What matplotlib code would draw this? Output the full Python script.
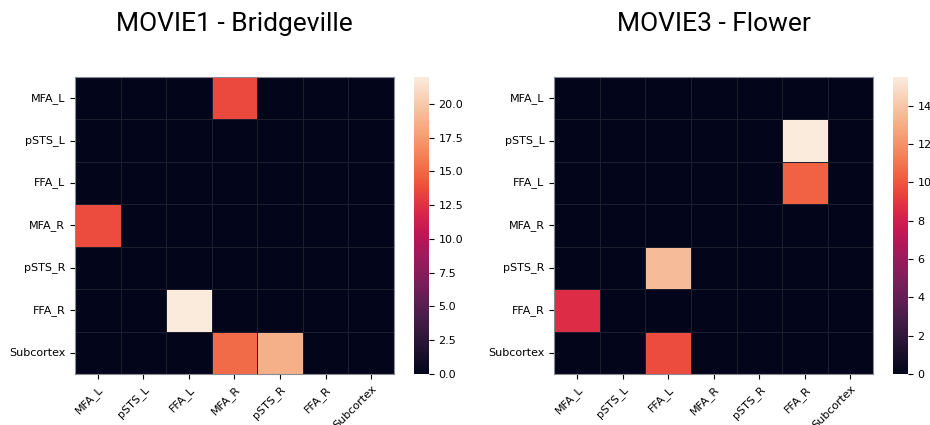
import matplotlib
matplotlib.use("Agg")
import matplotlib.pyplot as plt
import numpy as np
import seaborn as sns

regions = ["MFA_L", "pSTS_L", "FFA_L", "MFA_R", "pSTS_R", "FFA_R", "Subcortex"]

# MOVIE1 - Bridgeville (rows = source, cols = target)
movie1 = np.array([
    [0, 0, 0, 13.6, 0, 0, 0],
    [0, 0, 0, 0, 0, 0, 0],
    [0, 0, 0, 0, 0, 0, 0],
    [13.8, 0, 0, 0, 0, 0, 0],
    [0, 0, 0, 0, 0, 0, 0],
    [0, 0, 22.0, 0, 0, 0, 0],
    [0, 0, 0, 15.2, 18.6, 0, 0],
])

# MOVIE3 - Flower
movie3 = np.array([
    [0, 0, 0, 0, 0, 0, 0],
    [0, 0, 0, 0, 0, 15.5, 0],
    [0, 0, 0, 0, 0, 10.4, 0],
    [0, 0, 0, 0, 0, 0, 0],
    [0, 0, 13.6, 0, 0, 0, 0],
    [8.6, 0, 0, 0, 0, 0, 0],
    [0, 0, 9.7, 0, 0, 0, 0],
])

titles = ["MOVIE1 - Bridgeville", "MOVIE3 - Flower"]

fig = plt.figure(figsize=(9.3, 4.25), dpi=100)

layout = [
    ([0.0806, 0.12, 0.343, 0.699], [0.445, 0.12, 0.016, 0.699]),
    ([0.596, 0.12, 0.343, 0.699], [0.960, 0.12, 0.016, 0.699]),
]

for data, title, (hm_box, cb_box) in zip([movie1, movie3], titles, layout):
    ax = fig.add_axes(hm_box)
    cax = fig.add_axes(cb_box)
    sns.heatmap(data, ax=ax, cbar_ax=cax, cmap="rocket", vmin=0,
                xticklabels=regions, yticklabels=regions,
                linewidths=0.4, linecolor="#1e1e2c")
    for s in ax.spines.values():
        s.set_visible(True)
        s.set_color("#8a8a95")
        s.set_linewidth(0.8)
    ax.set_xticklabels(regions, rotation=45, ha="right", rotation_mode="anchor", fontsize=8)
    ax.set_yticklabels(regions, rotation=0, fontsize=8)
    cax.tick_params(labelsize=8)
    fig.text(hm_box[0] + hm_box[2] / 2, 0.927, title, fontsize=19,
             family="Roboto", ha="center", va="baseline")

fig.savefig("out.png", dpi=100)
